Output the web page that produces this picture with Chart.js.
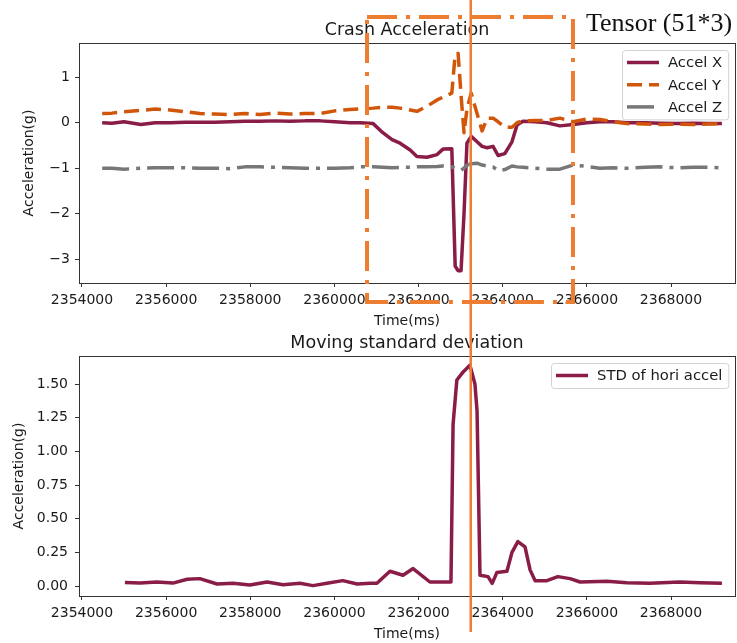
<!DOCTYPE html>
<html><head><meta charset="utf-8">
<script src="https://cdn.jsdelivr.net/npm/chart.js@4/dist/chart.umd.min.js"></script>
<style>
html,body{margin:0;padding:0;background:#fff;}
#wrap{position:relative;width:737px;height:643px;overflow:hidden;}
canvas{position:absolute;left:0;top:0;}
</style></head><body>
<div id="wrap"><canvas id="c1" width="737" height="643"></canvas><canvas id="c2" width="737" height="643"></canvas></div>
<script>
// ---------- data ----------
const timeAcc = [2354480,2354710,2355000,2355400,2355740,2356090,2356450,2356800,2357160,2357520,2357870,2358230,2358590,2358940,2359300,2359660,2360010,2360370,2360610,2360920,2361150,2361370,2361560,2361800,2361960,2362200,2362440,2362580,2362790,2362870,2362940,2363010,2363080,2363150,2363250,2363390,2363510,2363630,2363770,2363890,2364050,2364220,2364340,2364480,2364770,2365050,2365360,2365670,2366000,2366310,2366620,2366950,2367380,2367740,2368140,2368520,2368880,2369210];
const accelX = [0.0,-0.01,0.02,-0.04,0.0,0.0,0.01,0.01,0.01,0.02,0.03,0.03,0.04,0.03,0.04,0.04,0.02,0.0,0.0,-0.02,-0.22,-0.37,-0.45,-0.6,-0.74,-0.76,-0.7,-0.58,-0.57,-3.15,-3.25,-3.25,-2.0,-0.45,-0.3,-0.42,-0.52,-0.55,-0.52,-0.72,-0.68,-0.42,-0.05,0.03,0.02,0.0,-0.07,-0.04,0.0,0.02,0.02,0.0,0.0,-0.01,-0.02,-0.01,-0.02,-0.02];
const accelY = [0.2,0.21,0.24,0.27,0.3,0.28,0.24,0.2,0.19,0.18,0.2,0.18,0.21,0.19,0.2,0.2,0.26,0.29,0.3,0.32,0.34,0.34,0.32,0.28,0.25,0.36,0.5,0.56,0.65,1.5,1.52,0.6,-0.22,0.3,0.65,0.2,-0.18,0.1,0.1,0.02,-0.1,-0.1,0.0,0.04,0.05,0.05,0.1,0.02,0.08,0.07,0.02,-0.02,-0.03,-0.04,-0.03,-0.04,-0.03,-0.02];
const accelZ = [-1.0,-1.0,-1.02,-1.0,-0.99,-0.99,-0.99,-1.0,-1.0,-1.01,-0.97,-0.97,-0.98,-0.99,-1.0,-1.0,-1.0,-0.99,-0.97,-0.97,-0.98,-0.99,-0.98,-0.98,-0.97,-0.97,-0.96,-0.95,-0.97,-1.0,-1.02,-1.04,-1.0,-0.93,-0.9,-0.89,-0.93,-0.95,-0.97,-1.05,-1.03,-0.95,-0.97,-0.98,-1.0,-1.02,-1.02,-0.93,-0.96,-1.0,-0.99,-1.0,-0.98,-0.97,-0.99,-0.98,-0.98,-0.99];
const timeStd = [2355020,2355380,2355780,2356160,2356500,2356800,2357210,2357590,2357990,2358400,2358780,2359180,2359490,2359820,2360200,2360540,2360850,2361010,2361320,2361630,2361870,2362270,2362580,2362770,2362820,2362910,2363060,2363220,2363340,2363390,2363460,2363650,2363750,2363860,2364100,2364220,2364360,2364530,2364650,2364770,2365050,2365310,2365600,2365840,2366480,2366950,2367500,2368210,2368690,2369210];
const stdHori = [0.027,0.022,0.03,0.022,0.05,0.055,0.015,0.02,0.007,0.03,0.01,0.02,0.003,0.02,0.04,0.015,0.02,0.02,0.11,0.08,0.13,0.03,0.03,0.03,1.2,1.53,1.59,1.64,1.5,1.3,0.08,0.07,0.02,0.1,0.11,0.25,0.33,0.29,0.12,0.04,0.04,0.07,0.055,0.03,0.035,0.025,0.02,0.03,0.025,0.02];
const xTicks = [2354000,2356000,2358000,2360000,2362000,2364000,2366000,2368000];
const yTicksTop = [-3,-2,-1,0,1];
const yTicksBottom = [0,0.25,0.5,0.75,1.0,1.25,1.5];
const seriesLabels = ['Accel X','Accel Y','Accel Z'];
const stdLabel = 'STD of hori accel';
const chartTitles = ['Crash Acceleration','Moving standard deviation'];
const xLabel = 'Time(ms)';
const yLabel = 'Acceleration(g)';
const windowRange = [2360775, 2365670];
const crashTime = 2363240;
const annotationText = 'Tensor (51*3)';

// ---------- style ----------
const FONT = "'DejaVu Sans', sans-serif";
const TXT = '#1a1a1a';
const cX = '#8a1c48', cY = '#d2560a', cZ = '#777777', cAnn = '#ed7d31';
const X_MIN = 2353929, X_MAX = 2369521;

const mk = (xs, ys) => xs.map((t, i) => ({x: t, y: ys[i]}));
const minus = s => String(s).replace('-', '\u2212');

const axesDeco = {
  id: 'axesDeco',
  afterDatasetsDraw(chart, args, opts) {
    const ctx = chart.ctx, ca = chart.chartArea;
    ctx.save();
    ctx.strokeStyle = '#333'; ctx.lineWidth = 1; ctx.setLineDash([]);
    ctx.strokeRect(Math.round(ca.left) + 0.5, Math.round(ca.top) + 0.5, Math.round(ca.right - ca.left), Math.round(ca.bottom - ca.top));
    ctx.fillStyle = TXT; ctx.font = '17.5px ' + FONT; ctx.textAlign = 'center'; ctx.textBaseline = 'alphabetic';
    ctx.fillText(opts.title, (ca.left + ca.right) / 2, ca.top - 8);
    // legend
    const ds = chart.data.datasets;
    ctx.font = '14.8px ' + FONT;
    const handle = 32, padL = 5, gap = 9, padR = 6, rowH = 22.2, padT = 12.5;
    const tw = Math.max(...ds.map(d => ctx.measureText(d.label).width));
    const w = padL + handle + gap + tw + padR;
    const h = padT * 2 + (ds.length - 1) * rowH;
    const x0 = Math.round(ca.right - 7 - w), y0 = Math.round(ca.top + 7);
    ctx.beginPath(); ctx.roundRect(x0 + 0.5, y0 + 0.5, w, h, 3);
    ctx.fillStyle = 'rgba(255,255,255,0.85)'; ctx.fill();
    ctx.strokeStyle = '#d2d2d2'; ctx.lineWidth = 1; ctx.stroke();
    ds.forEach((d, i) => {
      const y = y0 + padT + i * rowH;
      ctx.beginPath(); ctx.setLineDash(d.borderDash || []); ctx.lineDashOffset = 0;
      ctx.strokeStyle = d.borderColor; ctx.lineWidth = d.borderWidth; ctx.lineCap = 'butt';
      ctx.moveTo(x0 + padL, y); ctx.lineTo(x0 + padL + handle, y); ctx.stroke();
      ctx.setLineDash([]);
      ctx.fillStyle = TXT; ctx.textBaseline = 'middle'; ctx.textAlign = 'left';
      ctx.fillText(d.label, x0 + padL + handle + gap, y + 1);
    });
    ctx.restore();
  }
};

function xScale(titlePadBottom) {
  return {
    type: 'linear', min: X_MIN, max: X_MAX, offset: false,
    afterBuildTicks: s => { s.ticks = xTicks.map(v => ({value: v})); },
    afterFit: s => { s.height = 47; },
    grid: {drawOnChartArea: false, drawTicks: true, tickLength: 4, color: '#333', lineWidth: 1},
    border: {display: false},
    ticks: {color: TXT, font: {family: FONT, size: 14}, padding: 5, maxRotation: 0, autoSkip: false, callback: v => String(v)},
    title: {display: true, text: xLabel, color: TXT, font: {family: FONT, size: 14}, padding: {top: 0, bottom: titlePadBottom}}
  };
}
function yScale(min, max, ticks, fmt, pad, titlePad) {
  return {
    type: 'linear', min: min, max: max,
    afterBuildTicks: s => { s.ticks = ticks.map(v => ({value: v})); },
    afterFit: s => { s.width = 79; },
    grid: {drawOnChartArea: false, drawTicks: true, tickLength: 4, color: '#333', lineWidth: 1},
    border: {display: false},
    ticks: {color: TXT, font: {family: FONT, size: 14}, padding: pad, autoSkip: false, callback: fmt},
    title: {display: true, text: yLabel, color: TXT, font: {family: FONT, size: 14}, padding: {top: titlePad, bottom: 0}}
  };
}
const common = {
  responsive: false, animation: false, devicePixelRatio: 1,
  elements: {point: {radius: 0}, line: {tension: 0, borderJoinStyle: 'round', fill: false}},
  events: []
};

const chart1 = new Chart(document.getElementById('c1'), {
  type: 'line',
  data: {datasets: [
    {label: seriesLabels[0], data: mk(timeAcc, accelX), borderColor: cX, borderWidth: 3.5, order: 3},
    {label: seriesLabels[1], data: mk(timeAcc, accelY), borderColor: cY, borderWidth: 3.5, borderDash: [15, 7], order: 2},
    {label: seriesLabels[2], data: mk(timeAcc, accelZ), borderColor: cZ, borderWidth: 3.5, borderDash: [27, 7, 4, 7], order: 1}
  ]},
  options: Object.assign({}, common, {
    layout: {padding: {top: 43, left: 0, right: 2, bottom: 313}},
    scales: {x: xScale(0), y: yScale(-3.52, 1.75, yTicksTop, v => minus(v), 5, 21)},
    plugins: {legend: {display: false}, tooltip: {enabled: false}, axesDeco: {title: chartTitles[0]}}
  }),
  plugins: [axesDeco]
});

const overlay = {
  id: 'overlay',
  afterDraw(chart) {
    const ctx = chart.ctx, xs = chart.scales.x, top = chart1.chartArea;
    ctx.save();
    ctx.strokeStyle = cAnn; ctx.lineWidth = 4; ctx.setLineDash([30, 9, 4, 9]); ctx.lineCap = 'butt';
    const xl = xs.getPixelForValue(windowRange[0]), xr = xs.getPixelForValue(windowRange[1]);
    const yt = top.top - 26, yb = top.bottom + 19;
    ctx.strokeRect(xl, yt, xr - xl, yb - yt);
    ctx.setLineDash([]); ctx.lineWidth = 2.5;
    const xc = xs.getPixelForValue(crashTime);
    ctx.beginPath(); ctx.moveTo(xc, 0); ctx.lineTo(xc, chart.chartArea.bottom + 36); ctx.stroke();
    ctx.fillStyle = '#111'; ctx.font = '26px "Liberation Serif", "Times New Roman", serif';
    ctx.textAlign = 'left'; ctx.textBaseline = 'alphabetic';
    ctx.fillText(annotationText, xr + 13, 31);
    ctx.restore();
  }
};

const chart2 = new Chart(document.getElementById('c2'), {
  type: 'line',
  data: {datasets: [
    {label: stdLabel, data: mk(timeStd, stdHori), borderColor: cX, borderWidth: 3.5}
  ]},
  options: Object.assign({}, common, {
    layout: {padding: {top: 356, left: 0, right: 2, bottom: 0}},
    scales: {x: xScale(0), y: yScale(-0.074, 1.708, yTicksBottom, v => v.toFixed(2), 7, 10.5)},
    plugins: {legend: {display: false}, tooltip: {enabled: false}, axesDeco: {title: chartTitles[1]}}
  }),
  plugins: [axesDeco, overlay]
});
</script>
</body></html>
